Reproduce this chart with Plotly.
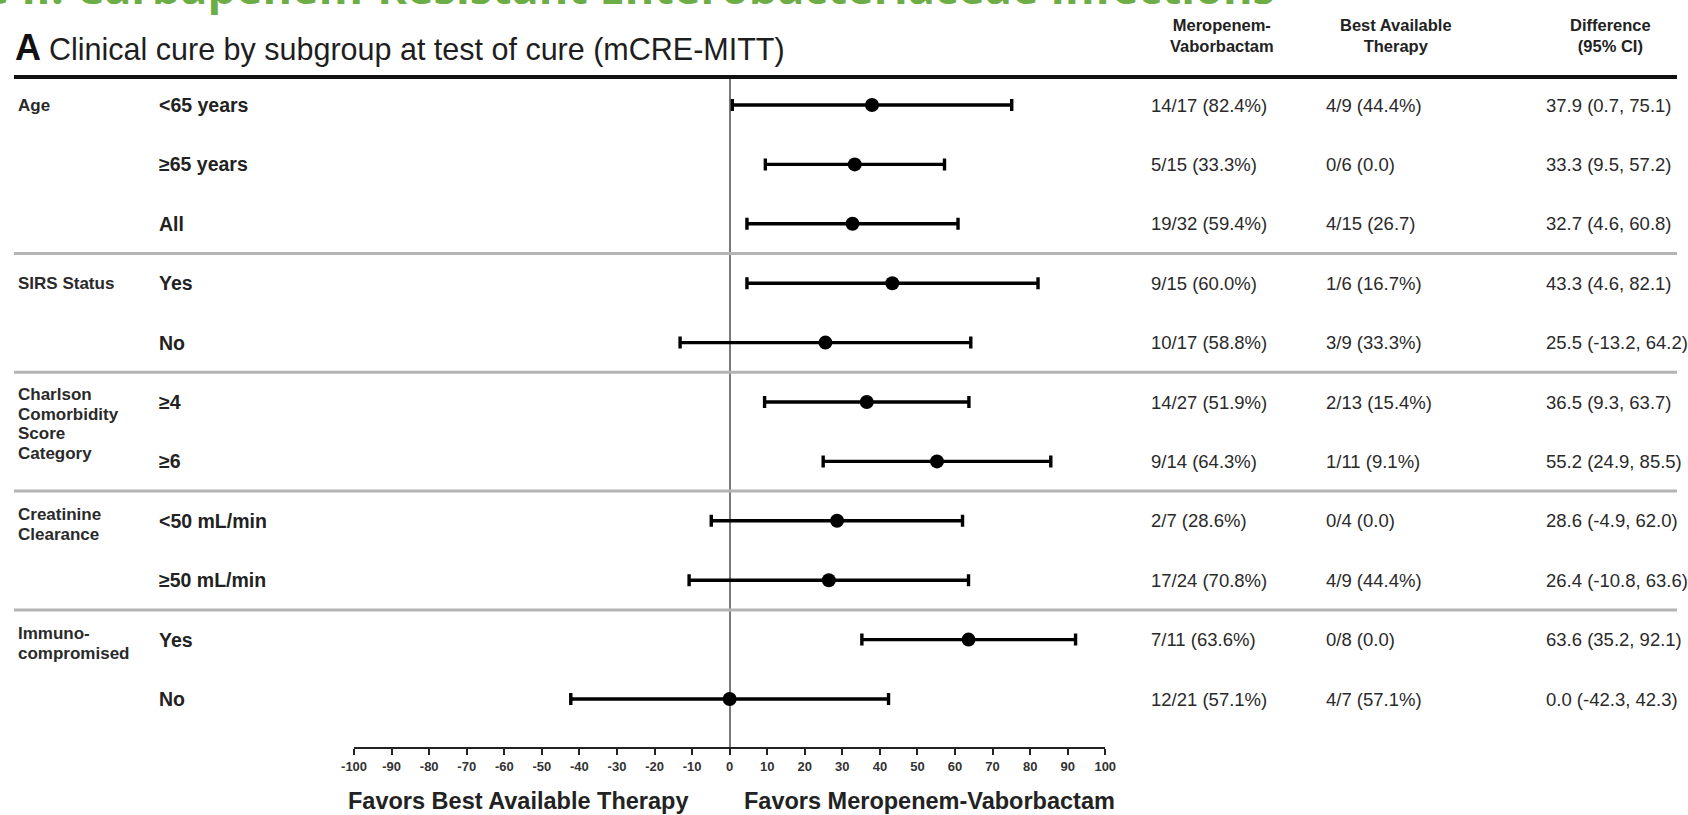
import plotly.graph_objects as go

W, H = 1688, 815

# ---- data -------------------------------------------------------------
group_labels = [
    ["Age"],
    ["SIRS Status"],
    ["Charlson", "Comorbidity", "Score", "Category"],
    ["Creatinine", "Clearance"],
    ["Immuno-", "compromised"],
]
group_sizes = [3, 2, 2, 2, 2]
# vertical centre of each group label block, in rows below the group's first row
group_label_offset = [0.0, 0.0, 0.37, 0.06, 0.06]

subgroups = ["<65 years", "≥65 years", "All", "Yes", "No", "≥4", "≥6",
             "<50 mL/min", "≥50 mL/min", "Yes", "No"]

mero_vabor = ["14/17 (82.4%)", "5/15 (33.3%)", "19/32 (59.4%)", "9/15 (60.0%)",
              "10/17 (58.8%)", "14/27 (51.9%)", "9/14 (64.3%)", "2/7 (28.6%)",
              "17/24 (70.8%)", "7/11 (63.6%)", "12/21 (57.1%)"]
best_avail = ["4/9 (44.4%)", "0/6 (0.0)", "4/15 (26.7)", "1/6 (16.7%)",
              "3/9 (33.3%)", "2/13 (15.4%)", "1/11 (9.1%)", "0/4 (0.0)",
              "4/9 (44.4%)", "0/8 (0.0)", "4/7 (57.1%)"]

difference = [37.9, 33.3, 32.7, 43.3, 25.5, 36.5, 55.2, 28.6, 26.4, 63.6, 0.0]
ci_low = [0.7, 9.5, 4.6, 4.6, -13.2, 9.3, 24.9, -4.9, -10.8, 35.2, -42.3]
ci_high = [75.1, 57.2, 60.8, 82.1, 64.2, 63.7, 85.5, 62.0, 63.6, 92.1, 42.3]

tick_values = list(range(-100, 101, 10))
tick_labels = [str(v) for v in tick_values]

column_headers = ["Meropenem-<br>Vaborbactam", "Best Available<br>Therapy",
                  "Difference<br>(95% CI)"]
favors_left = "Favors Best Available Therapy"
favors_right = "Favors Meropenem-Vaborbactam"
panel_letter = "A"
panel_title = "Clinical cure by subgroup at test of cure (mCRE-MITT)"
page_heading = "Figure II. Carbapenem-Resistant Enterobacteriaceae Infections"

# ---- layout helpers (pixel -> paper) ------------------------------------
def px(x):
    return x / W

def py(y):
    return 1 - y / H

FONT = "Liberation Sans, Arial, Helvetica, sans-serif"
INK = "#222222"
rows = list(range(len(subgroups)))
ci_text = [f"{d:.1f} ({lo:.1f}, {hi:.1f})" for d, lo, hi in zip(difference, ci_low, ci_high)]

ROW0, ROW_STEP = 105.0, 59.4      # pixel centre of first row, row pitch
TOP, BOTTOM = 77.0, 747.0         # header rule / x axis line
y_range = [(BOTTOM - ROW0) / ROW_STEP, (TOP - ROW0) / ROW_STEP]
LABEL_LINE = 19.8 / ROW_STEP      # line pitch of the group labels, in rows
LEFT = 1                          # left end of the rules

fig = go.Figure()

fig.add_trace(go.Scatter(
    x=difference, y=rows, mode="markers",
    marker=dict(symbol="circle", size=14, color="black"),
    error_x=dict(type="data", symmetric=False,
                 array=[h - d for h, d in zip(ci_high, difference)],
                 arrayminus=[d - l for d, l in zip(difference, ci_low)],
                 color="black", thickness=3.4, width=6),
    hoverinfo="skip", showlegend=False,
))

annotations = []

def text(x, y, s, size, yref="y", xanchor="left", weight="normal", color=INK,
         family=FONT, yanchor="middle", xref="paper"):
    annotations.append(dict(
        x=x, y=y, xref=xref, yref=yref, text=s, showarrow=False,
        xanchor=xanchor, yanchor=yanchor,
        align="left" if xanchor == "left" else "center",
        font=dict(family=family, size=size, color=color, weight=weight)))

# group labels (one annotation per line) and separators
shapes = []
start = 0
for gi, (lines, n) in enumerate(zip(group_labels, group_sizes)):
    centre = start + group_label_offset[gi]
    for li, line in enumerate(lines):
        yy = centre + (li - (len(lines) - 1) / 2) * LABEL_LINE
        text(px(3), yy, line, 17, weight="bold", color="#2a2a2a")
    start += n
    if gi < len(group_sizes) - 1:
        shapes.append(dict(type="line", xref="paper", yref="y",
                           x0=px(LEFT), x1=1, y0=start - 0.5, y1=start - 0.5,
                           line=dict(color="#b4b4b4", width=3)))

for r, s in zip(rows, subgroups):
    text(px(146), r, s, 19.5, weight="bold")
for r, a, b, c in zip(rows, mero_vabor, best_avail, ci_text):
    text(px(1152), r, a, 18.5, color="#2a2a2a")
    text(px(1330), r, b, 18.5, color="#2a2a2a")
    text(px(1553), r, c, 18.5, color="#2a2a2a")

# column headers
for cx, h in zip([1226, 1403, 1621], column_headers):
    text(px(cx), py(36), h, 16.5, yref="paper", xanchor="center", weight="bold")

# header rule
shapes.append(dict(type="line", xref="paper", yref="paper",
                   x0=px(LEFT), x1=1, y0=py(TOP), y1=py(TOP),
                   line=dict(color="#111111", width=4)))

# panel title
text(px(0), py(48), panel_letter, 36, yref="paper", weight="bold", color="#111111")
text(px(34), py(50), panel_title, 30.5, yref="paper", color="#1e1e1e")

# page heading, partly above the page edge
text(px(1282), py(-14), page_heading, 45, yref="paper", xanchor="right",
     weight="bold", color="#6cad45", family="Open Sans, sans-serif")

# axis captions
text(px(512), py(801), favors_left, 23.5, yref="paper", xanchor="center", weight="bold")
text(px(930), py(801), favors_right, 23.5, yref="paper", xanchor="center", weight="bold")

fig.update_layout(
    width=W, height=H, margin=dict(l=0, r=0, t=0, b=0),
    paper_bgcolor="white", plot_bgcolor="white",
    xaxis=dict(domain=[px(346), px(1108)], range=[-100, 100],
               tickmode="array", tickvals=tick_values, ticktext=tick_labels,
               ticks="outside", ticklen=6, tickwidth=2, tickcolor=INK,
               showline=True, linewidth=2, linecolor=INK,
               showgrid=False, zeroline=True, zerolinecolor="#7a7a7a", zerolinewidth=2,
               tickfont=dict(family=FONT, size=13, color="#333333", weight="bold"),
               fixedrange=True),
    yaxis=dict(domain=[py(BOTTOM), py(TOP)], range=y_range, visible=False,
               fixedrange=True),
    annotations=annotations, shapes=shapes,
)

fig.write_html("out.html")
